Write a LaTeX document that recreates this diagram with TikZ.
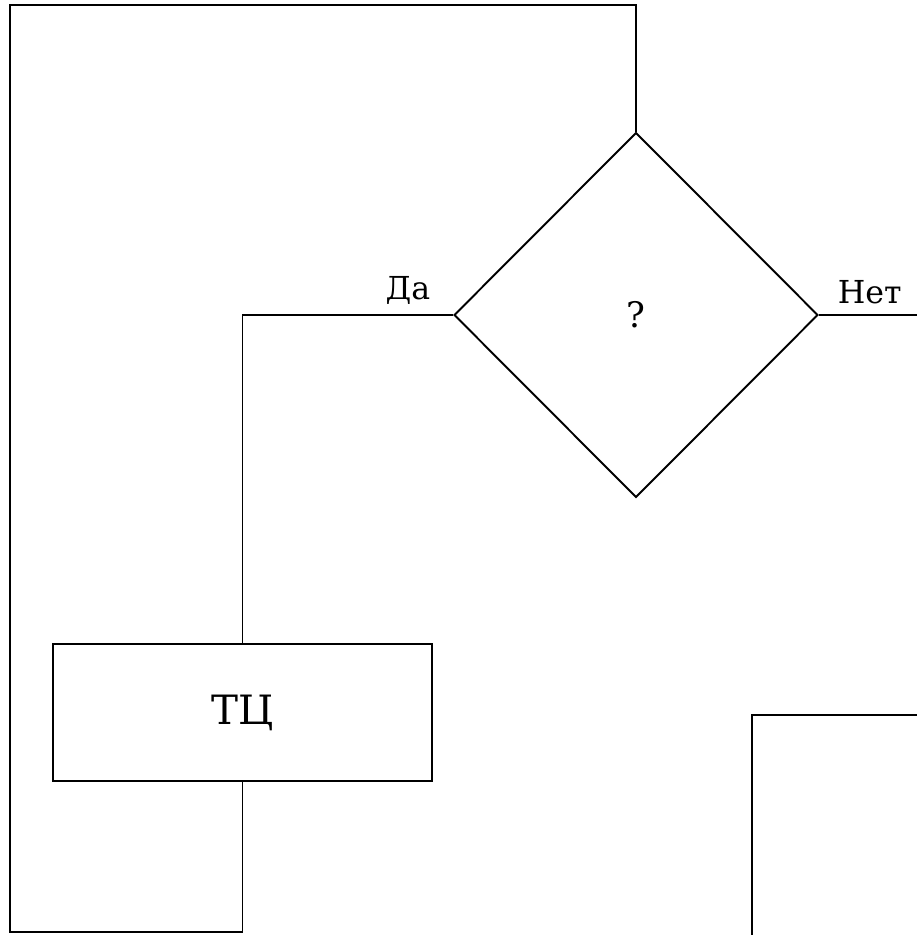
\documentclass[tikz,border=0pt]{standalone}
\usepackage{fontspec}
\setmainfont{DejaVu Serif}
\usetikzlibrary{positioning,shapes.geometric}

\begin{document}
\begin{tikzpicture}[x=0.02cm, y=-0.02cm, line width=1.1pt]
  \tikzstyle{cond}=[draw, diamond, inner sep=0pt, minimum width=7.28cm, minimum height=7.3cm, font=\fontsize{20}{20}\selectfont]
  \tikzstyle{proc}=[draw, rectangle, inner sep=0pt, minimum width=7.58cm, minimum height=2.74cm, font=\fontsize{23}{23}\selectfont]
  \tikzstyle{lbl}=[inner sep=0pt, font=\fontsize{18}{18}\selectfont]
  \useasboundingbox (0,0) rectangle (917,935);
  \node[cond] (q) at (636,315) {?};
  \node[proc] (tc) at (242.5,712.5) {ТЦ};
  \node[lbl, above left=0.2cm and 0.44cm of q.west] (yes) {Да};
  \node[lbl, above right=0.2cm and 0.36cm of q.east] (no) {Нет};
  \coordinate (topR) at (636,5);
  \coordinate (topL) at (10,5);
  \coordinate (botL) at (10,932);
  \coordinate (exitR) at (917,315);
  \coordinate (inB) at (752,935);
  \coordinate (inR) at (917,715);
  \draw (q.north) -- (topR) -- (topL) -- (botL) -| (tc.south);
  \draw (tc.north) |- (q.west);
  \draw (q.east) -- (exitR);
  \draw (inB) |- (inR);
\end{tikzpicture}
\end{document}
